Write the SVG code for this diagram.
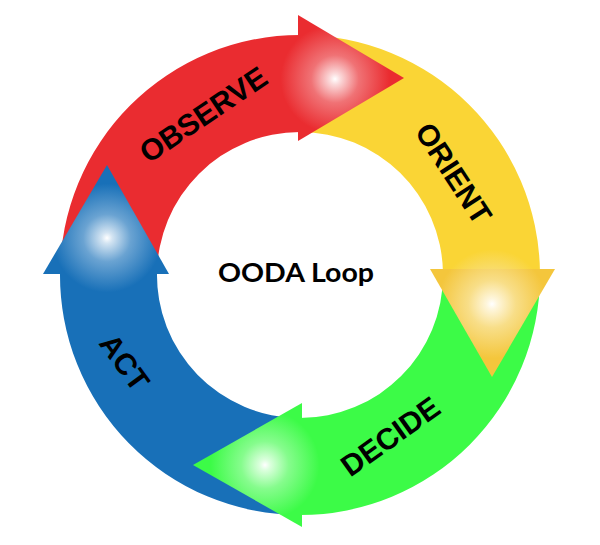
<svg xmlns="http://www.w3.org/2000/svg" width="600" height="545" viewBox="0 0 600 545">
  <style>
    .lbl { font-family: "Liberation Sans", Arial, sans-serif; font-weight: bold; font-size: 30px; fill: #000; text-anchor: middle; }
    .title { font-family: Lato, "Open Sans", sans-serif; font-weight: bold; font-size: 26px; fill: #000; text-anchor: middle; }
  </style>
  <defs>
    <radialGradient id="gR" gradientUnits="userSpaceOnUse" cx="335" cy="79" r="68">
      <stop offset="0" stop-color="#FFFFFF"/>
      <stop offset="0.08" stop-color="#FBDADB"/>
      <stop offset="0.35" stop-color="#F07275"/>
      <stop offset="0.8" stop-color="#EA2C30"/>
    </radialGradient>
    <radialGradient id="gY" gradientUnits="userSpaceOnUse" cx="492" cy="304" r="68">
      <stop offset="0" stop-color="#FFFFFF"/>
      <stop offset="0.08" stop-color="#FEF6DC"/>
      <stop offset="0.35" stop-color="#F8E08A"/>
      <stop offset="0.8" stop-color="#FAD535"/>
    </radialGradient>
    <radialGradient id="gYh" gradientUnits="userSpaceOnUse" cx="492" cy="304" r="68">
      <stop offset="0" stop-color="#FFFFFF"/>
      <stop offset="0.08" stop-color="#FEF6DC"/>
      <stop offset="0.35" stop-color="#F8DE88"/>
      <stop offset="0.8" stop-color="#F4C63C"/>
    </radialGradient>
    <radialGradient id="gG" gradientUnits="userSpaceOnUse" cx="265" cy="465" r="68">
      <stop offset="0" stop-color="#FFFFFF"/>
      <stop offset="0.08" stop-color="#DBFFDD"/>
      <stop offset="0.35" stop-color="#86FC8D"/>
      <stop offset="0.8" stop-color="#3CFB47"/>
    </radialGradient>
    <radialGradient id="gB" gradientUnits="userSpaceOnUse" cx="107" cy="238" r="68">
      <stop offset="0" stop-color="#FFFFFF"/>
      <stop offset="0.08" stop-color="#D3E4F2"/>
      <stop offset="0.35" stop-color="#6AA3D2"/>
      <stop offset="0.8" stop-color="#1870B8"/>
    </radialGradient>
  </defs>
  <rect width="600" height="545" fill="#FFFFFF"/>

  <g id="nodes">
    <g id="observe">
      <path d="M60,275 A240,240 0 0 1 300,35 L300,132 A143,143 0 0 0 157,275 Z" fill="url(#gR)"/>
      <text class="lbl" transform="translate(203,114) rotate(-34)" x="0" y="11">OBSERVE</text>
    </g>
    <g id="orient">
      <path d="M300,35 A240,240 0 0 1 539.98,272 L442.97,272 A143,143 0 0 0 300,132 Z" fill="url(#gY)"/>
      <text class="lbl" transform="translate(454,173) rotate(57)" x="0" y="11">ORIENT</text>
    </g>
    <g id="decide">
      <path d="M540,275 A240,240 0 0 1 300,515 L300,418 A143,143 0 0 0 443,275 Z" fill="url(#gG)"/>
      <text class="lbl" transform="translate(390,436) rotate(-35.5)" x="0" y="11">DECIDE</text>
    </g>
    <g id="act">
      <path d="M300,515 A240,240 0 0 1 60.02,271 L157.03,271 A143,143 0 0 0 300,418 Z" fill="url(#gB)"/>
      <text class="lbl" transform="translate(125,362) rotate(54)" x="0" y="11">ACT</text>
    </g>
    <g id="title">
      <text class="title" x="296" y="282" textLength="156" lengthAdjust="spacingAndGlyphs">OODA Loop</text>
    </g>
  </g>

  <g id="connectors">
    <polygon points="298,15 404,78 298,141" fill="url(#gR)"/>
    <polygon points="430,269 555,269 492,377" fill="url(#gYh)"/>
    <polygon points="302,403 302,527 193,465" fill="url(#gG)"/>
    <polygon points="43,274 169,274 107,165" fill="url(#gB)"/>
  </g>
</svg>
